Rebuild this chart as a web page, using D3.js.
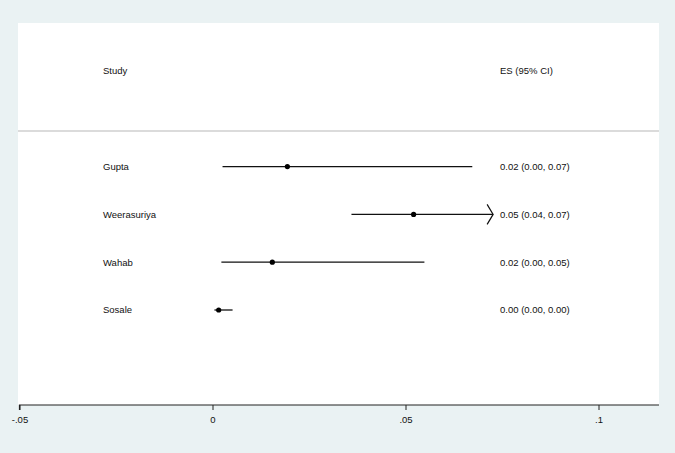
<!DOCTYPE html>
<html><head><meta charset="utf-8">
<script src="https://cdn.jsdelivr.net/npm/d3@7"></script>
<style>html,body{margin:0;padding:0;background:#EAF2F3;}svg{display:block;}</style>
</head><body>
<script>
const studies = ["Gupta", "Weerasuriya", "Wahab", "Sosale"];
const es = [0.0194, 0.0521, 0.0155, 0.0016];
const lower = [0.0026, 0.0360, 0.0023, 0.0005];
const upper = [0.0673, 0.0740, 0.0549, 0.0052];
const esLabels = ["0.02 (0.00, 0.07)", "0.05 (0.04, 0.07)", "0.02 (0.00, 0.05)", "0.00 (0.00, 0.00)"];
const xTicks = [-0.05, 0, 0.05, 0.1];
const xTickLabels = ["-.05", "0", ".05", ".1"];
const clipMax = 0.0727;

const W = 675, H = 453;
const svg = d3.select("body").append("svg").attr("width", W).attr("height", H);
svg.append("rect").attr("width", W).attr("height", H).attr("fill", "#EAF2F3");

const plot = {left: 18, right: 659, top: 23, bottom: 405};
svg.append("rect").attr("x", plot.left).attr("y", plot.top)
  .attr("width", plot.right - plot.left).attr("height", plot.bottom - plot.top)
  .attr("fill", "#ffffff");

const x = d3.scaleLinear().domain([-0.05, 0.1]).range([19.5, 598.5]);
const y = d3.scaleLinear().domain([-2, 3]).range([71, 310]);

const font = "'Liberation Sans', Arial, Helvetica, sans-serif";

// header
svg.append("text").attr("x", 103).attr("y", y(-2)).attr("dy", "0.35em")
  .attr("font-family", font).attr("font-size", 9.5).attr("fill", "#111").text("Study");
svg.append("text").attr("x", 500).attr("y", y(-2)).attr("dy", "0.35em")
  .attr("font-family", font).attr("font-size", 9.5).attr("fill", "#111").text("ES (95% CI)");

// divider
svg.append("line").attr("x1", plot.left).attr("x2", plot.right)
  .attr("y1", 131).attr("y2", 131).attr("stroke", "#cfcfcf").attr("stroke-width", 1.5);

const rows = svg.append("g");
studies.forEach((s, i) => {
  const yy = y(i);
  rows.append("text").attr("x", 103).attr("y", yy).attr("dy", "0.35em")
    .attr("font-family", font).attr("font-size", 9.5).attr("fill", "#111").text(s);
  rows.append("text").attr("x", 500).attr("y", yy).attr("dy", "0.35em")
    .attr("font-family", font).attr("font-size", 9.5).attr("fill", "#111").text(esLabels[i]);
  const hi = Math.min(upper[i], clipMax);
  rows.append("line").attr("x1", x(lower[i])).attr("x2", x(hi))
    .attr("y1", yy).attr("y2", yy).attr("stroke", "#111").attr("stroke-width", 1.3);
  if (upper[i] > clipMax) {
    const xe = x(clipMax);
    rows.append("path")
      .attr("d", `M${xe - 6},${yy - 10} L${xe},${yy} L${xe - 6},${yy + 10}`)
      .attr("fill", "none").attr("stroke", "#111").attr("stroke-width", 1.2);
  }
  rows.append("circle").attr("cx", x(es[i])).attr("cy", yy).attr("r", 2.6).attr("fill", "#000");
});

// x axis
const axis = d3.axisBottom(x).tickValues(xTicks).tickSize(5).tickPadding(6)
  .tickFormat((d, i) => xTickLabels[i]);
const ag = svg.append("g").attr("transform", `translate(0,${plot.bottom})`).call(axis);
ag.select(".domain").attr("d", `M${x(-0.05)},5V0H${plot.right}`).attr("stroke", "#222").attr("stroke-width", 1.2);
ag.selectAll(".tick line").attr("stroke", "#222");
ag.selectAll(".tick text").attr("font-family", font).attr("font-size", 9.5).attr("fill", "#111");
</script>
</body></html>
